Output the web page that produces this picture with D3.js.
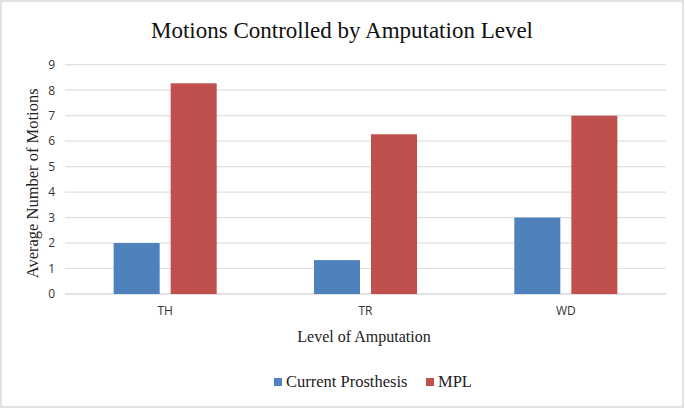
<!DOCTYPE html>
<html><head><meta charset="utf-8">
<script src="https://cdn.jsdelivr.net/npm/d3@7"></script>
<style>body{margin:0;background:#fff}</style>
</head><body>
<svg id="c" width="685" height="409"></svg>
<script>
const categories = ["TH", "TR", "WD"];
const seriesNames = ["Current Prosthesis", "MPL"];
const currentProsthesis = [2.0, 1.33, 3.0];
const mpl = [8.27, 6.27, 7.0];
const yTicks = [0,1,2,3,4,5,6,7,8,9];
const colors = ["#4f81bd", "#c0504d"];

const svg = d3.select("#c");
svg.append("rect").attr("x",1).attr("y",1).attr("width",682).attr("height",406)
  .attr("fill","#fff").attr("stroke","#d9d9d9").attr("stroke-width",1.5);

const L=65, R=666, T=64.7, B=294;
const x = d3.scaleBand().domain(categories).range([L,R]).paddingInner(0).paddingOuter(0);
const x1 = d3.scaleBand().domain(seriesNames).range([0,x.bandwidth()]).paddingInner(0.193).paddingOuter(0.853);
const y = d3.scaleLinear().domain([0,9]).range([B,T]);

const grid = svg.append("g");
grid.selectAll("line").data(yTicks).join("line")
  .attr("x1",L).attr("x2",R).attr("y1",d=>y(d)).attr("y2",d=>y(d))
  .attr("stroke",d=>d===0?"#d9d9d9":"#e0e0e0").attr("stroke-width",d=>d===0?1.5:1.2);

const data = categories.map((c,i)=>({c, vals:[currentProsthesis[i], mpl[i]]}));
const g = svg.append("g");
data.forEach(d=>{
  d.vals.forEach((v,j)=>{
    g.append("rect").attr("x",x(d.c)+x1(seriesNames[j])).attr("width",x1.bandwidth())
      .attr("y",y(v)).attr("height",B-y(v)).attr("fill",colors[j]);
  });
});

const yAxis = d3.axisLeft(y).tickValues(yTicks).tickSize(0).tickPadding(8).tickFormat(d3.format("d"));
const ya = svg.append("g").attr("transform",`translate(${L-2},0)`).call(yAxis);
ya.select(".domain").remove();
ya.selectAll("text").attr("font-family","Open Sans, sans-serif").attr("font-size",12).attr("fill","#333");

const xAxis = d3.axisBottom(x).tickSize(0).tickPadding(12);
const xa = svg.append("g").attr("transform",`translate(0,${B})`).call(xAxis);
xa.select(".domain").remove();
xa.selectAll("text").attr("font-family","Open Sans, sans-serif").attr("font-size",12).attr("fill","#333");

svg.append("text").attr("x",342).attr("y",38).attr("text-anchor","middle")
  .attr("font-family","Liberation Serif, serif").attr("font-size",23).attr("fill","#111")
  .text("Motions Controlled by Amputation Level");

svg.append("text").attr("transform",`translate(38,${(T+B)/2+4}) rotate(-90)`).attr("text-anchor","middle")
  .attr("font-family","Liberation Serif, serif").attr("font-size",16.5).attr("fill","#222")
  .text("Average Number of Motions");

svg.append("text").attr("x",364).attr("y",342).attr("text-anchor","middle")
  .attr("font-family","Liberation Serif, serif").attr("font-size",16).attr("fill","#222")
  .text("Level of Amputation");

const leg = svg.append("g");
const legX = [274, 426];
seriesNames.forEach((n,i)=>{
  leg.append("rect").attr("x",legX[i]).attr("y",378).attr("width",8).attr("height",8).attr("fill",colors[i]);
  leg.append("text").attr("x",legX[i]+12).attr("y",387)
    .attr("font-family","Liberation Serif, serif").attr("font-size",16.5).attr("fill","#222").text(n);
});
</script>
</body></html>
